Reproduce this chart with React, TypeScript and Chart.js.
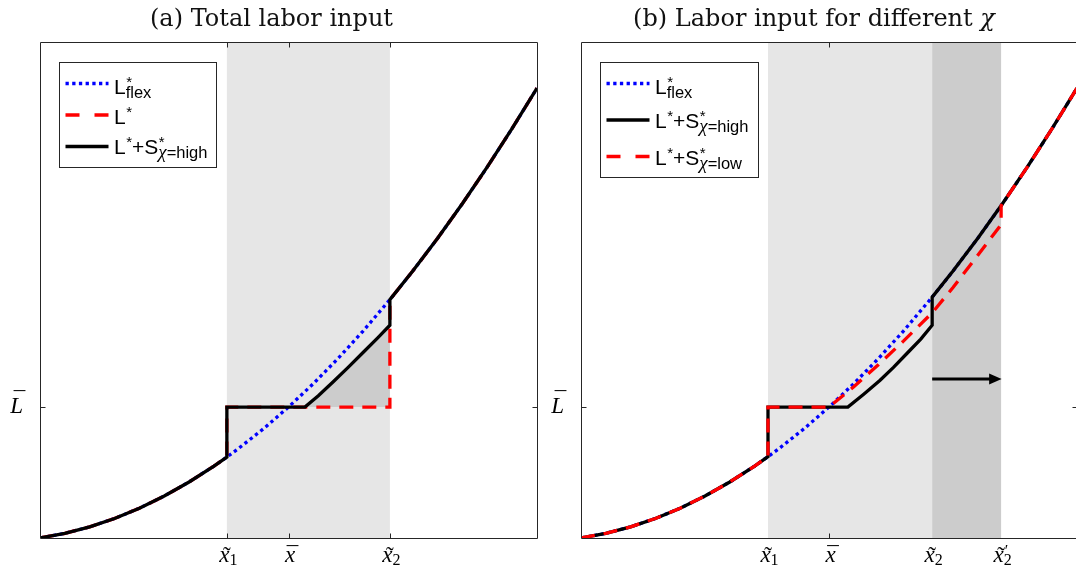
import React, { useEffect, useRef } from "react";
import { Chart, registerables } from "chart.js";

Chart.register(...registerables);

// ---------------- data ----------------
const yMin = 0;
const yMax = 1;
const xMin = 0;
const xMax = 1;

// Panel (a)
const aFlexX = [0, 0.05, 0.1, 0.15, 0.2, 0.25, 0.3, 0.35, 0.376, 0.4, 0.45, 0.5, 0.55, 0.6, 0.65, 0.704, 0.75, 0.8, 0.85, 0.9, 0.95, 1];
const aFlexY = [0, 0.0094, 0.0225, 0.0394, 0.0601, 0.0846, 0.1129, 0.145, 0.1632, 0.1809, 0.2205, 0.264, 0.3112, 0.3623, 0.4171, 0.4806, 0.5381, 0.6043, 0.6743, 0.7481, 0.8257, 0.907];
const aLStarX = [0, 0.05, 0.1, 0.15, 0.2, 0.25, 0.3, 0.35, 0.376, 0.376, 0.704, 0.704, 0.75, 0.8, 0.85, 0.9, 0.95, 1];
const aLStarY = [0, 0.0094, 0.0225, 0.0394, 0.0601, 0.0846, 0.1129, 0.145, 0.1632, 0.264, 0.264, 0.4806, 0.5381, 0.6043, 0.6743, 0.7481, 0.8257, 0.907];
const aHighX = [0, 0.05, 0.1, 0.15, 0.2, 0.25, 0.3, 0.35, 0.376, 0.376, 0.533, 0.56, 0.59, 0.62, 0.65, 0.68, 0.704, 0.704, 0.75, 0.8, 0.85, 0.9, 0.95, 1];
const aHighY = [0, 0.0094, 0.0225, 0.0394, 0.0601, 0.0846, 0.1129, 0.145, 0.1632, 0.264, 0.264, 0.287, 0.315, 0.344, 0.374, 0.404, 0.429, 0.4806, 0.5381, 0.6043, 0.6743, 0.7481, 0.8257, 0.907];
const aGapX = [0.533, 0.56, 0.59, 0.62, 0.65, 0.68, 0.704, 0.704];
const aGapY = [0.264, 0.287, 0.315, 0.344, 0.374, 0.404, 0.429, 0.264];
const aBand = [0.376, 0.704];
const aTickVals = [0.376, 0.5, 0.704];
const aTickMarks = [0.376, 0.5, 0.704];
const aTickAcc = ["˜", "¯", "˜"];
const aTickSub = ["1", "", "2"];
const aTickPrime = ["", "", ""];

// Panel (b)
const bFlexX = [0, 0.05, 0.1, 0.15, 0.2, 0.25, 0.3, 0.35, 0.377, 0.4, 0.45, 0.5, 0.55, 0.6, 0.65, 0.708, 0.75, 0.8, 0.85, 0.9, 0.95, 1];
const bFlexY = [0, 0.0094, 0.0225, 0.0394, 0.0601, 0.0846, 0.1129, 0.145, 0.1639, 0.1809, 0.2205, 0.264, 0.3112, 0.3623, 0.4171, 0.4855, 0.5381, 0.6043, 0.6743, 0.7481, 0.8257, 0.907];
const bHighX = [0, 0.05, 0.1, 0.15, 0.2, 0.25, 0.3, 0.35, 0.377, 0.377, 0.538, 0.57, 0.603, 0.63, 0.657, 0.685, 0.708, 0.708, 0.75, 0.8, 0.85, 0.9, 0.95, 1];
const bHighY = [0, 0.0094, 0.0225, 0.0394, 0.0601, 0.0846, 0.1129, 0.145, 0.1639, 0.264, 0.264, 0.29, 0.318, 0.344, 0.372, 0.401, 0.429, 0.4855, 0.5381, 0.6043, 0.6743, 0.7481, 0.8257, 0.907];
const bLowX = [0, 0.05, 0.1, 0.15, 0.2, 0.25, 0.3, 0.35, 0.377, 0.377, 0.5, 0.55, 0.6, 0.65, 0.708, 0.75, 0.8, 0.847, 0.847, 0.85, 0.9, 0.95, 1];
const bLowY = [0, 0.0094, 0.0225, 0.0394, 0.0601, 0.0846, 0.1129, 0.145, 0.1639, 0.264, 0.264, 0.305, 0.35, 0.397, 0.454, 0.505, 0.57, 0.632, 0.67, 0.6743, 0.7481, 0.8257, 0.907];
const bBandLight = [0.377, 0.708];
const bBandDark = [0.708, 0.847];
const bArrowX = [0.708, 0.847];
const bArrowY = [0.3206, 0.3206];
const bTickVals = [0.377, 0.5, 0.708, 0.847];
const bTickMarks = [0.5];
const bTickAcc = ["˜", "¯", "˜", "˜"];
const bTickSub = ["1", "", "2", "2"];
const bTickPrime = ["", "", "", "′"];

const yTickVal = 0.264;
const yTickBase = "L";
const yTickAcc = "¯";
const xTickBase = "x";

const aTitle = "(a) Total labor input";
const aTitleSym = "";
const bTitle = "(b) Labor input for different ";
const bTitleSym = "χ";

type Run = { t: string; k: "sans" | "greek" };
type Piece = { m: string; sup?: string; sub?: Run[] };

const lgFlex: Piece[] = [{ m: "L", sup: "*", sub: [{ t: "flex", k: "sans" }] }];
const lgStar: Piece[] = [{ m: "L", sup: "*" }];
const lgHigh: Piece[] = [{ m: "L", sup: "*" }, { m: "+S", sup: "*", sub: [{ t: "χ", k: "greek" }, { t: "=high", k: "sans" }] }];
const lgLow: Piece[] = [{ m: "L", sup: "*" }, { m: "+S", sup: "*", sub: [{ t: "χ", k: "greek" }, { t: "=low", k: "sans" }] }];

// ---------------- styles ----------------
const BLUE = "#0000ff";
const RED = "#ff0000";
const BLACK = "#000000";
const LIGHT = "#e6e6e6";
const DARK = "#cccccc";
const AXIS = "#262626";
const LW = 3.3;
const DOT = [3.3, 3.4];
const DASH = [14, 9];
const LEG_DASH = [14, 15];

const F_MAIN = '21px "Liberation Sans", Arial, sans-serif';
const F_SUP = '15px "Liberation Sans", Arial, sans-serif';
const F_SUB = '16.5px "Liberation Sans", Arial, sans-serif';
const F_GREEK = 'italic 19px "Liberation Serif", serif';
const F_TICK = 'italic 23px "Liberation Serif", serif';
const F_TICKSUB = '16px "Liberation Serif", serif';
const F_ACC = '23px "Liberation Serif", serif';
const F_TITLE = '24px "DejaVu Serif", serif';
const F_TITLE_I = 'italic 24px "DejaVu Serif", serif';

const pts = (xs: number[], ys: number[]) => xs.map((x, i) => ({ x, y: ys[i] }));

const lineDs = (xs: number[], ys: number[], color: string, dash: number[], order: number) => ({
  data: pts(xs, ys),
  borderColor: color,
  borderWidth: LW,
  borderDash: dash,
  borderCapStyle: "butt",
  borderJoinStyle: "miter",
  pointRadius: 0,
  fill: false,
  tension: 0,
  order,
});

const areaDs = (xs: number[], ys: number[], color: string, order: number) => ({
  data: pts(xs, ys),
  borderColor: "rgba(0,0,0,0)",
  borderWidth: 0,
  backgroundColor: color,
  fill: "shape",
  pointRadius: 0,
  tension: 0,
  order,
});

const bandDs = (b: number[], color: string, order: number) =>
  areaDs([b[0], b[0], b[1], b[1]], [yMin, yMax, yMax, yMin], color, order);

interface LegendRow {
  ds: number;
  y: number;
  dy: number;
  pieces: Piece[];
}

interface PanelCfg {
  width: number;
  left: number;
  padRight: number;
  datasets: any[];
  title: string;
  titleSym: string;
  titleCx: number;
  tickVals: number[];
  tickMarks: number[];
  tickAcc: string[];
  tickSub: string[];
  tickPrime: string[];
  legendBox: number[];
  legendRows: LegendRow[];
  arrow?: { x: number[]; y: number[] };
}

function drawPieces(ctx: CanvasRenderingContext2D, x: number, y: number, pieces: Piece[]) {
  ctx.textAlign = "left";
  ctx.textBaseline = "alphabetic";
  for (const p of pieces) {
    ctx.font = F_MAIN;
    ctx.fillText(p.m, x, y);
    x += ctx.measureText(p.m).width;
    let w = 0;
    if (p.sup) {
      ctx.font = F_SUP;
      ctx.fillText(p.sup, x + 0.5, y - 7);
      w = Math.max(w, ctx.measureText(p.sup).width + 0.5);
    }
    if (p.sub) {
      let sx = x;
      for (const r of p.sub) {
        ctx.font = r.k === "greek" ? F_GREEK : F_SUB;
        ctx.fillText(r.t, sx, y + 4);
        sx += ctx.measureText(r.t).width;
      }
      w = Math.max(w, sx - x);
    }
    x += w;
  }
}

function makePlugin(cfg: PanelCfg) {
  return {
    id: "decor",
    afterDatasetsDraw(chart: any) {
      const { ctx, chartArea: a, scales } = chart;
      const sx = scales.x;
      const sy = scales.y;
      ctx.save();
      if (cfg.arrow) {
        const x0 = sx.getPixelForValue(cfg.arrow.x[0]);
        const x1 = sx.getPixelForValue(cfg.arrow.x[1]);
        const py = sy.getPixelForValue(cfg.arrow.y[0]);
        ctx.strokeStyle = BLACK;
        ctx.fillStyle = BLACK;
        ctx.lineWidth = 3;
        ctx.setLineDash([]);
        ctx.beginPath();
        ctx.moveTo(x0, py);
        ctx.lineTo(x1 - 10, py);
        ctx.stroke();
        ctx.beginPath();
        ctx.moveTo(x1 + 0.5, py);
        ctx.lineTo(x1 - 12, py - 5.5);
        ctx.lineTo(x1 - 12, py + 5.5);
        ctx.closePath();
        ctx.fill();
      }
      ctx.strokeStyle = AXIS;
      ctx.lineWidth = 1;
      ctx.setLineDash([]);
      const L = Math.round(a.left) + 0.5;
      const R = Math.round(a.right) + 0.5;
      const T = Math.round(a.top) + 0.5;
      const B = Math.round(a.bottom) + 0.5;
      ctx.beginPath();
      ctx.moveTo(L, T);
      ctx.lineTo(R, T);
      ctx.lineTo(R, B);
      ctx.lineTo(L, B);
      ctx.closePath();
      ctx.stroke();
      ctx.beginPath();
      for (const v of cfg.tickMarks) {
        const px = Math.round(sx.getPixelForValue(v)) + 0.5;
        ctx.moveTo(px, B);
        ctx.lineTo(px, B - 5);
        ctx.moveTo(px, T);
        ctx.lineTo(px, T + 5);
      }
      const ty = Math.round(sy.getPixelForValue(yTickVal)) + 0.5;
      ctx.moveTo(L, ty);
      ctx.lineTo(L + 5, ty);
      ctx.moveTo(R, ty);
      ctx.lineTo(R - 5, ty);
      ctx.stroke();
      ctx.restore();
    },
    afterDraw(chart: any) {
      const { ctx, chartArea: a, scales } = chart;
      const sx = scales.x;
      const sy = scales.y;
      ctx.save();
      ctx.fillStyle = "#000";
      ctx.textBaseline = "alphabetic";
      const baseY = a.bottom + 24;
      cfg.tickVals.forEach((v, i) => {
        const cx = sx.getPixelForValue(v);
        ctx.font = F_TICK;
        const wb = ctx.measureText(xTickBase).width;
        ctx.font = F_TICKSUB;
        const ws = cfg.tickSub[i] ? ctx.measureText(cfg.tickSub[i]).width : 0;
        const x0 = cx - (wb + ws) / 2 + 1.5;
        ctx.textAlign = "left";
        ctx.font = F_TICK;
        ctx.fillText(xTickBase, x0, baseY);
        ctx.font = F_ACC;
        ctx.textAlign = "center";
        ctx.fillText(cfg.tickAcc[i], x0 + wb / 2 + 2.5, baseY + 1);
        ctx.textAlign = "left";
        ctx.font = F_TICKSUB;
        if (cfg.tickPrime[i]) ctx.fillText(cfg.tickPrime[i], x0 + wb + 1, baseY - 6);
        if (cfg.tickSub[i]) ctx.fillText(cfg.tickSub[i], x0 + wb, baseY + 3);
      });
      const ly = sy.getPixelForValue(yTickVal);
      ctx.font = F_TICK;
      const wl = ctx.measureText(yTickBase).width;
      const lx = a.left - 17 - wl;
      ctx.textAlign = "left";
      ctx.fillText(yTickBase, lx, ly + 6);
      ctx.font = F_ACC;
      ctx.textAlign = "center";
      ctx.fillText(yTickAcc, lx + wl / 2 + 3, ly + 1);
      ctx.font = F_TITLE;
      const w1 = ctx.measureText(cfg.title).width;
      ctx.font = F_TITLE_I;
      const w2 = cfg.titleSym ? ctx.measureText(cfg.titleSym).width : 0;
      const tx = cfg.titleCx - (w1 + w2) / 2;
      ctx.textAlign = "left";
      ctx.font = F_TITLE;
      ctx.fillStyle = "#111";
      ctx.fillText(cfg.title, tx, 26);
      if (cfg.titleSym) {
        ctx.font = F_TITLE_I;
        ctx.fillText(cfg.titleSym, tx + w1, 26);
      }
      const [bx, by, bw, bh] = cfg.legendBox;
      ctx.fillStyle = "#fff";
      ctx.fillRect(bx, by, bw, bh);
      ctx.strokeStyle = AXIS;
      ctx.lineWidth = 1;
      ctx.setLineDash([]);
      ctx.strokeRect(bx, by, bw, bh);
      for (const row of cfg.legendRows) {
        const ds = chart.data.datasets[row.ds];
        ctx.strokeStyle = ds.borderColor;
        ctx.lineWidth = ds.borderWidth;
        ctx.lineCap = "butt";
        const dash = ds.borderDash && ds.borderDash.length ? (ds.borderDash === DASH ? LEG_DASH : ds.borderDash) : [];
        ctx.setLineDash(dash);
        ctx.beginPath();
        ctx.moveTo(bx + 6, row.y);
        ctx.lineTo(bx + 49, row.y);
        ctx.stroke();
        ctx.setLineDash([]);
        ctx.fillStyle = "#000";
        drawPieces(ctx, bx + 54.5, row.y + row.dy, row.pieces);
      }
      ctx.restore();
    },
  };
}

const panelA: PanelCfg = {
  width: 541,
  left: 0,
  padRight: 4,
  datasets: [
    lineDs(aHighX, aHighY, BLACK, [], 0),
    lineDs(aLStarX, aLStarY, RED, DASH, 1),
    lineDs(aFlexX, aFlexY, BLUE, DOT, 2),
    areaDs(aGapX, aGapY, DARK, 3),
    bandDs(aBand, LIGHT, 4),
  ],
  title: aTitle,
  titleSym: aTitleSym,
  titleCx: 271.5,
  tickVals: aTickVals,
  tickMarks: aTickMarks,
  tickAcc: aTickAcc,
  tickSub: aTickSub,
  tickPrime: aTickPrime,
  legendBox: [59.5, 62.5, 157, 105],
  legendRows: [
    { ds: 2, y: 83.5, dy: 10, pieces: lgFlex },
    { ds: 1, y: 115, dy: 9, pieces: lgStar },
    { ds: 0, y: 146.5, dy: 7.5, pieces: lgHigh },
  ],
};

const panelB: PanelCfg = {
  width: 539,
  left: 541,
  padRight: 3,
  datasets: [
    lineDs(bLowX, bLowY, RED, DASH, 0),
    lineDs(bHighX, bHighY, BLACK, [], 1),
    lineDs(bFlexX, bFlexY, BLUE, DOT, 2),
    bandDs(bBandDark, DARK, 3),
    bandDs(bBandLight, LIGHT, 4),
  ],
  title: bTitle,
  titleSym: bTitleSym,
  titleCx: 814 - 541,
  tickVals: bTickVals,
  tickMarks: bTickMarks,
  tickAcc: bTickAcc,
  tickSub: bTickSub,
  tickPrime: bTickPrime,
  legendBox: [59.5, 62.5, 158, 115],
  legendRows: [
    { ds: 2, y: 83.5, dy: 10, pieces: lgFlex },
    { ds: 1, y: 120, dy: 8, pieces: lgHigh },
    { ds: 0, y: 156.5, dy: 8, pieces: lgLow },
  ],
  arrow: { x: bArrowX, y: bArrowY },
};

function Panel({ cfg }: { cfg: PanelCfg }) {
  const ref = useRef<HTMLCanvasElement>(null);
  useEffect(() => {
    const chart = new Chart(ref.current as HTMLCanvasElement, {
      type: "line",
      data: { datasets: cfg.datasets as any },
      options: {
        animation: false,
        responsive: false,
        devicePixelRatio: 1,
        events: [],
        layout: { padding: { left: 40, right: cfg.padRight, top: 42, bottom: 30 } },
        scales: {
          x: { type: "linear", min: xMin, max: xMax, display: false },
          y: { type: "linear", min: yMin, max: yMax, display: false },
        },
        plugins: {
          legend: { display: false },
          tooltip: { enabled: false },
          title: { display: false },
        },
      },
      plugins: [makePlugin(cfg) as any],
    });
    return () => chart.destroy();
  }, []);
  return (
    <canvas
      ref={ref}
      width={cfg.width}
      height={568}
      style={{ position: "absolute", left: cfg.left, top: 0, width: cfg.width, height: 568, display: "block" }}
    />
  );
}

export default function App() {
  return (
    <div
      style={{
        position: "absolute",
        left: 0,
        top: 0,
        width: 1076,
        height: 568,
        overflow: "hidden",
        background: "#fff",
      }}
    >
      <Panel cfg={panelA} />
      <Panel cfg={panelB} />
    </div>
  );
}
